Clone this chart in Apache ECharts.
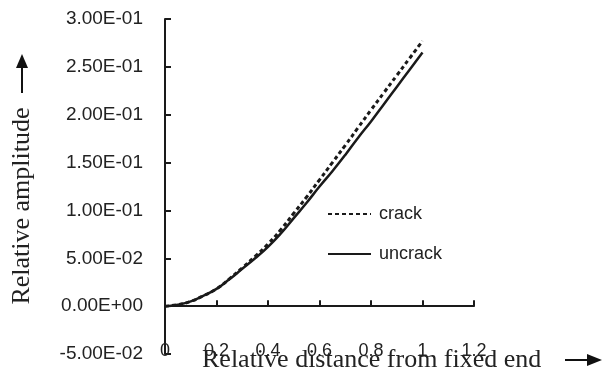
<!DOCTYPE html>
<html>
<head>
<meta charset="utf-8">
<script src="https://cdn.jsdelivr.net/npm/echarts@6/dist/echarts.min.js"></script>
<style>html,body{margin:0;padding:0;background:#fff}#c{width:603px;height:373px}</style>
</head>
<body>
<div id="c"></div>
<script>
var xValues = [0, 0.05, 0.1, 0.15, 0.2, 0.25, 0.3, 0.35, 0.4, 0.45, 0.5, 0.55, 0.6, 0.65, 0.7, 0.75, 0.8, 0.85, 0.9, 0.95, 1.0];
var crack = [0, 0.0015, 0.005, 0.011, 0.018, 0.0285, 0.040, 0.052, 0.065, 0.080, 0.097, 0.114, 0.132, 0.150, 0.168, 0.1865, 0.205, 0.223, 0.241, 0.259, 0.277];
var uncrack = [0, 0.0015, 0.005, 0.011, 0.018, 0.028, 0.039, 0.050, 0.062, 0.076, 0.092, 0.108, 0.125, 0.141, 0.158, 0.176, 0.193, 0.211, 0.229, 0.247, 0.265];
var seriesNames = ['crack', 'uncrack'];
var xTickLabels = ['0', '0.2', '0.4', '0.6', '0.8', '1', '1.2'];
var yTickLabels = ['-5.00E-02', '0.00E+00', '5.00E-02', '1.00E-01', '1.50E-01', '2.00E-01', '2.50E-01', '3.00E-01'];
var xTitle = 'Relative distance from fixed end';
var yTitle = 'Relative amplitude';

function pairs(xs, ys) { return xs.map(function (x, i) { return [x, ys[i]]; }); }

var chart = echarts.init(document.getElementById('c'), null, { renderer: 'canvas' });
var sans = 'Liberation Sans';
var serif = 'Liberation Serif';
var ink = '#1a1a1a';
chart.setOption({
  animation: false,
  backgroundColor: '#fff',
  grid: { left: 165, right: 129, top: 19, bottom: 19 },
  legend: {
    orient: 'vertical', left: 327, top: 205, itemGap: 22, padding: 0,
    itemWidth: 43, itemHeight: 14,
    itemStyle: { opacity: 0 },
    textStyle: { fontFamily: sans, fontSize: 18, color: '#222', padding: [0, 0, 0, 3] },
    data: seriesNames
  },
  xAxis: [{
    type: 'value', min: 0, max: 1.2, interval: 0.2,
    axisLine: { onZero: true, lineStyle: { color: ink, width: 2 } },
    axisTick: { inside: true, length: 6, lineStyle: { color: ink, width: 2 } },
    axisLabel: { show: false },
    splitLine: { show: false }
  }, {
    type: 'value', min: 0, max: 1.2, interval: 0.2, position: 'bottom', offset: -12,
    axisLine: { show: false, onZero: false },
    axisTick: { show: false },
    axisLabel: {
      margin: 0, fontFamily: sans, fontSize: 18, color: '#222',
      formatter: function (v) { return xTickLabels[Math.round(v / 0.2)]; }
    },
    splitLine: { show: false }
  }],
  yAxis: {
    type: 'value', min: -0.05, max: 0.3, interval: 0.05,
    axisLine: { onZero: false, lineStyle: { color: ink, width: 2 } },
    axisTick: { inside: true, length: 6, lineStyle: { color: ink, width: 2 } },
    axisLabel: {
      margin: 22, fontFamily: sans, fontSize: 19, color: '#222',
      formatter: function (v) { return yTickLabels[Math.round((v + 0.05) / 0.05)]; }
    },
    splitLine: { show: false }
  },
  series: [{
    name: seriesNames[0], type: 'line', smooth: true, symbol: 'none', xAxisIndex: 0,
    lineStyle: { color: ink, width: 3, type: [4, 3] }, itemStyle: { color: ink },
    data: pairs(xValues, crack), z: 3
  }, {
    name: seriesNames[1], type: 'line', smooth: true, symbol: 'none', xAxisIndex: 0,
    lineStyle: { color: ink, width: 2.5, type: 'solid' }, itemStyle: { color: ink },
    data: pairs(xValues, uncrack), z: 2
  }],
  graphic: [
    { type: 'text', x: 22, y: 206, rotation: Math.PI / 2,
      style: { text: yTitle, fontFamily: serif, fontSize: 26, fill: '#222', align: 'center', verticalAlign: 'middle' } },
    { type: 'text', x: 202, y: 360,
      style: { text: xTitle, fontFamily: serif, fontSize: 26, fill: '#222', align: 'left', verticalAlign: 'middle' } },
    { type: 'line', shape: { x1: 22, y1: 93, x2: 22, y2: 66 }, style: { stroke: '#111', lineWidth: 2 } },
    { type: 'polygon', shape: { points: [[22, 54], [16, 68], [28, 68]] }, style: { fill: '#111' } },
    { type: 'line', shape: { x1: 565, y1: 360, x2: 590, y2: 360 }, style: { stroke: '#111', lineWidth: 2 } },
    { type: 'polygon', shape: { points: [[602, 360], [587, 354], [587, 366]] }, style: { fill: '#111' } }
  ]
});
</script>
</body>
</html>
